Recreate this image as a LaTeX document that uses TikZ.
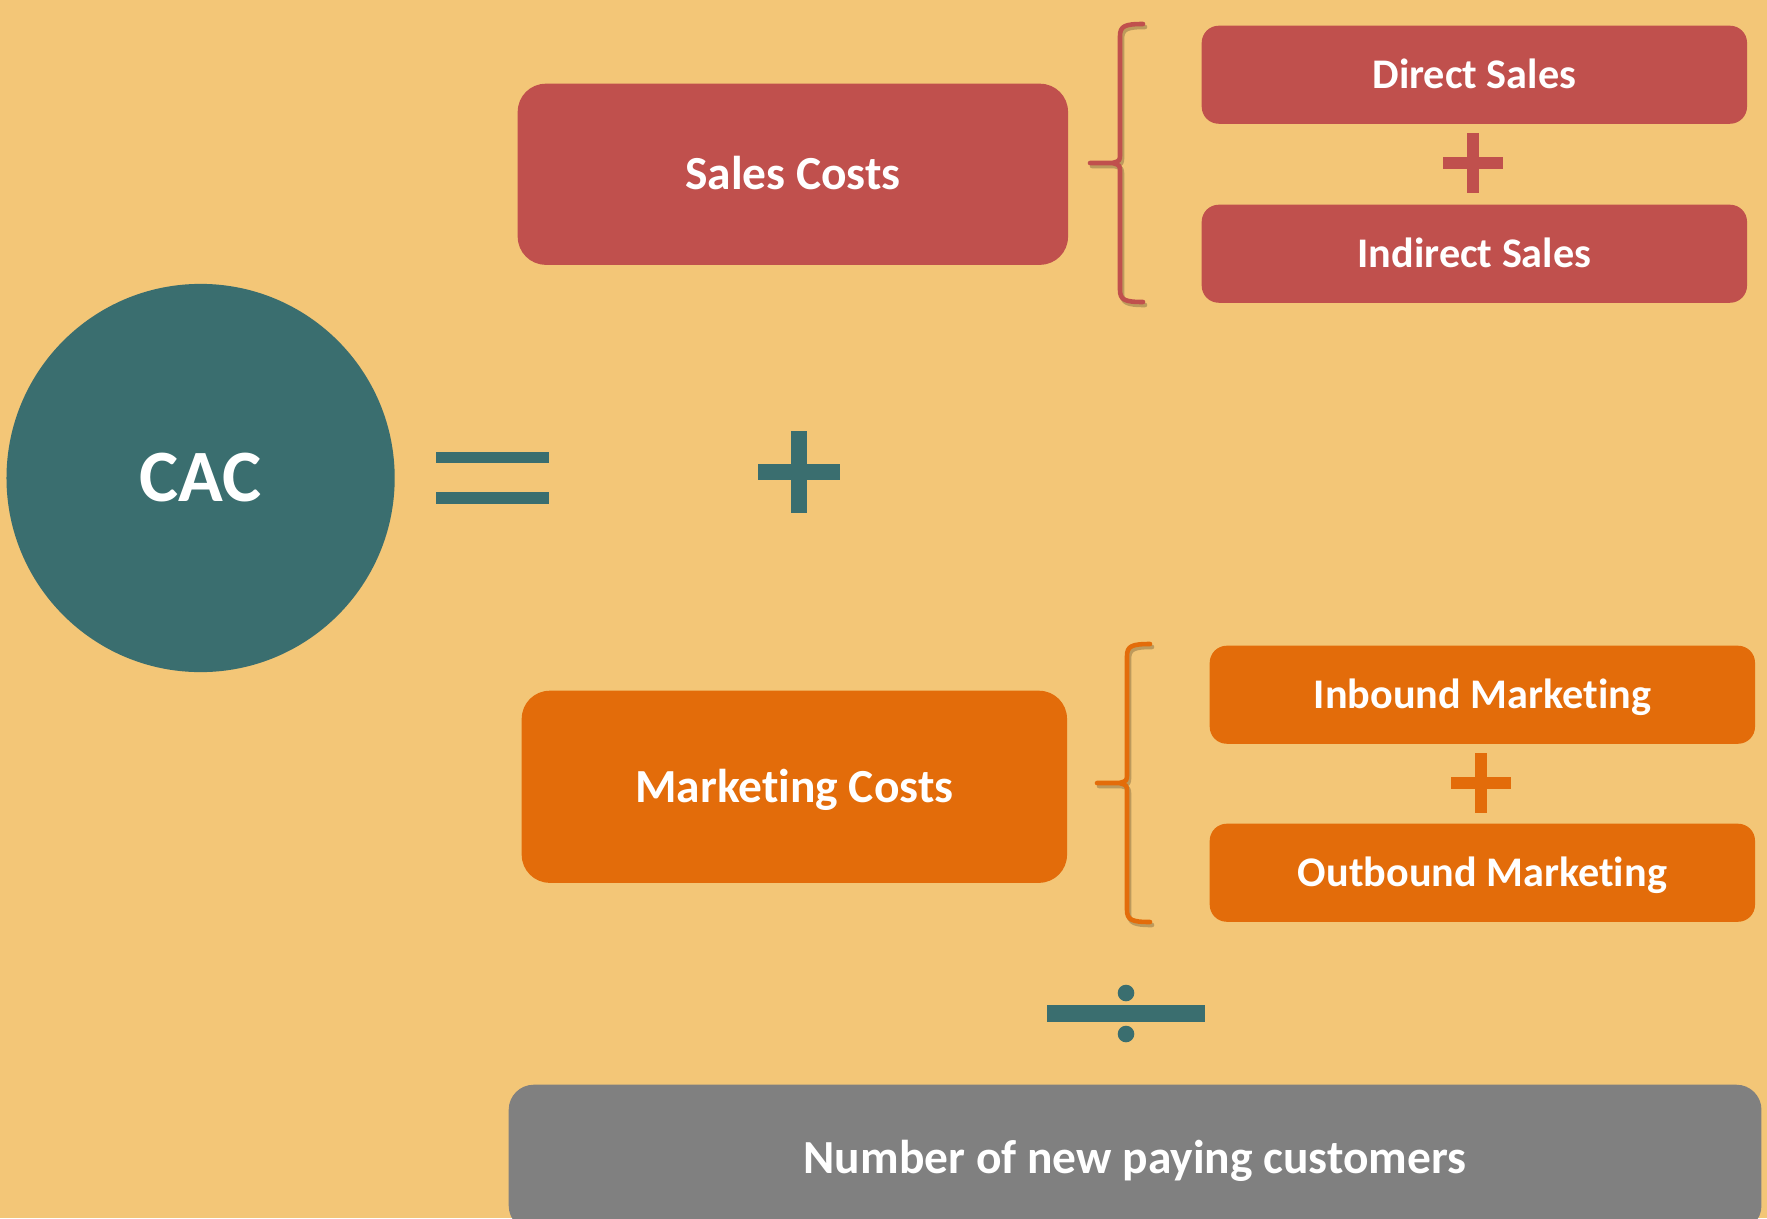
\documentclass[tikz,border=0pt]{standalone}
\usepackage{fontspec}
\setmainfont{Carlito}[Ligatures={NoCommon,NoContextual}]
\definecolor{CBeige}{HTML}{F3C677}
\definecolor{CTeal}{HTML}{3A6E6F}
\definecolor{CRed}{HTML}{C0504D}
\definecolor{COrange}{HTML}{E36C0A}
\definecolor{CGrey}{HTML}{808080}
\usetikzlibrary{positioning,calc}
\newcommand{\costbrace}[4]{% {colour}{spine x}{top y}{bottom y}
  \pgfmathsetmacro{\braceMid}{(#3+#4)/2}
  \foreach \dx/\dy/\bcol/\bop in {2/3/black/0.22,0/0/#1/1} {
    \draw[line width=1.3pt,line cap=round,line join=round,color=\bcol,opacity=\bop,
          shift={(\dx,\dy)}]
      (#2+23,#3) .. controls (#2+5,#3) and (#2,#3+2) .. (#2,#3+12)
      -- (#2,\braceMid-10) .. controls (#2,\braceMid-2) .. (#2-8,\braceMid)
      -- (#2-30,\braceMid) -- (#2-8,\braceMid)
      .. controls (#2,\braceMid+2) .. (#2,\braceMid+10)
      -- (#2,#4-12) .. controls (#2,#4-2) and (#2+5,#4) .. (#2+23,#4);
  }%
}
\newcommand{\plussign}[4]{% {colour}{x}{y}{half length}
  \fill[#1] (#2-#4,#3-#4*0.2) rectangle (#2+#4,#3+#4*0.2);
  \fill[#1] (#2-#4*0.2,#3-#4) rectangle (#2+#4*0.2,#3+#4);
}

\begin{document}
\begin{tikzpicture}[x=0.01cm,y=-0.01cm,
  costbox/.style={rectangle,rounded corners=0.28cm,text=white,inner sep=0pt,
                  text height=8.7pt,text depth=0pt,
                  font=\fontsize{13.5}{16}\selectfont\bfseries,anchor=north west},
  partbox/.style={rectangle,rounded corners=0.17cm,text=white,inner sep=0pt,
                  text height=7.7pt,text depth=0pt,
                  minimum width=5.45cm,minimum height=0.98cm,anchor=north west,
                  font=\fontsize{12}{14}\selectfont\bfseries}]
  \useasboundingbox (0,0) rectangle (1767,1218);
  \fill[CBeige] (0,0) rectangle (1767,1218);

  % left hand side
  \node[circle,fill=CTeal,text=white,minimum size=3.88cm,inner sep=0pt,
        text height=13.5pt,text depth=0pt,
        font=\fontsize{21}{24}\selectfont\bfseries] (cac) at (200.6,478) {CAC};
  \fill[CTeal] (436,452) rectangle (549,463);
  \fill[CTeal] (436,492) rectangle (549,504);

  % sales costs
  \node[costbox,fill=CRed,minimum width=5.50cm,minimum height=1.81cm] (sales) at (517,83) {Sales Costs};
  \node[partbox,fill=CRed] (direct) at (1201,25) {Direct Sales};
  \node[partbox,fill=CRed] (indirect) at (1201,204) {Indirect Sales};
  \plussign{CRed}{1473}{163}{30}
  \costbrace{CRed}{1120}{24}{302}

  \plussign{CTeal}{799}{472}{41}

  % marketing costs
  \node[costbox,fill=COrange,minimum width=5.45cm,minimum height=1.92cm] (marketing) at (521,690) {Marketing Costs};
  \node[partbox,fill=COrange] (inbound) at (1209,645) {Inbound Marketing};
  \node[partbox,fill=COrange] (outbound) at (1209,823) {Outbound Marketing};
  \plussign{COrange}{1481}{783}{30}
  \costbrace{COrange}{1127}{644}{922}

  % divided by
  \fill[CTeal] (1047,1005) rectangle (1205,1022);
  \fill[CTeal] (1126,993) circle (8.3);
  \fill[CTeal] (1126,1034) circle (8.3);
  \node[costbox,fill=CGrey,rounded corners=0.25cm,minimum width=12.52cm,minimum height=1.46cm]
    (customers) at (508,1084) {Number of new paying customers};
\end{tikzpicture}
\end{document}
